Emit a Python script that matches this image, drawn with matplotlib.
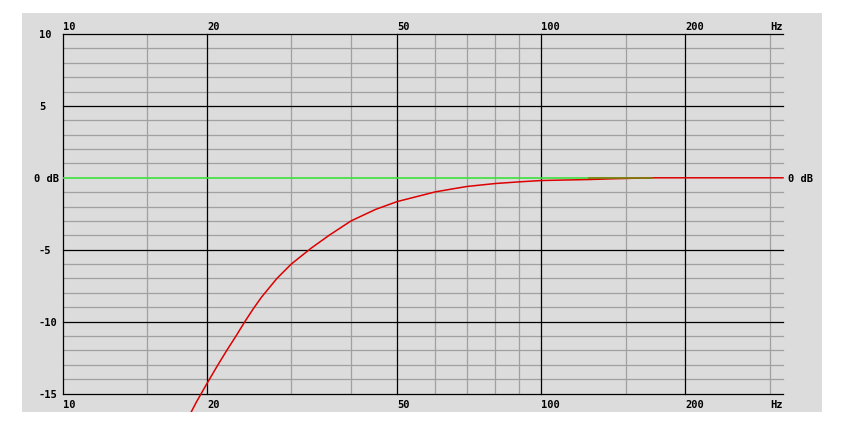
import matplotlib.pyplot as plt
from matplotlib.patches import Rectangle
from matplotlib.transforms import blended_transform_factory, offset_copy

# response (Hz, dB)
freq = [18, 19, 20, 21, 22, 23, 24, 25, 26, 28, 30, 33, 36, 40, 45, 50,
        55, 60, 65, 70, 80, 90, 100, 110, 126, 140, 170, 320]
gain = [-17.1, -15.6, -14.3, -13.1, -12.0, -11.0, -10.0, -9.1, -8.3, -7.0,
        -6.0, -4.9, -4.0, -3.0, -2.2, -1.65, -1.3, -0.98, -0.78, -0.6,
        -0.4, -0.28, -0.19, -0.16, -0.12, -0.07, 0.0, 0.0]
ref_freq = [10, 170]
ref_gain = [0, 0]

x_major = [20, 50, 100, 200]
x_minor = [15, 30, 40, 60, 70, 80, 90, 150, 300]
x_labels = [10, 20, 50, 100, 200]
y_labels = {10: "10", 5: "5", 0: "0 dB", -5: "-5", -10: "-10", -15: "-15"}

W, H = 849, 427
bg = "#dcdcdc"
font = dict(family="DejaVu Sans Mono", weight="bold", size=7.5)

fig = plt.figure(figsize=(W / 100, H / 100), dpi=100)
panel = Rectangle((22 / W, 1 - 413 / H), 800 / W, 399 / H,
                  transform=fig.transFigure, facecolor=bg, edgecolor="none", zorder=-5)
fig.patches.append(panel)

ax = fig.add_axes([63 / W, 1 - 394.5 / H, 720 / W, 359.5 / H])
ax.set_facecolor(bg)
ax.set_xscale("log")
ax.set_xlim(10, 320)
ax.set_ylim(-15, 10)
for s in ax.spines.values():
    s.set_visible(False)
ax.set_xticks([])
ax.set_yticks([])
ax.minorticks_off()

for db in range(-15, 11):
    if db == 0:
        continue  # 0 dB is marked by the traces themselves
    major = db % 5 == 0
    ax.axhline(db, color="black" if major else "#a0a0a0", lw=0.9, clip_on=False,
               zorder=2 if major else 1)
for f in x_minor:
    ax.axvline(f, color="#a0a0a0", lw=0.9, zorder=1)
for f in [10] + x_major:
    ax.axvline(f, color="black", lw=0.9, zorder=2, clip_on=False)

ax.plot(ref_freq, ref_gain, color="#3ee03e", lw=1.2, zorder=3)
red, = ax.plot(freq, gain, color="#dd0000", lw=1.1, zorder=4)
red.set_clip_path(panel)
# where both traces overlap they blend to olive
ov_f = [f for f, g in zip(freq, gain) if g > -0.13 and f <= ref_freq[1]]
ax.plot(ov_f, [0] * len(ov_f), color="#808010", lw=1.2, zorder=5)

top = offset_copy(ax.get_xaxis_transform(), fig=fig, x=0, y=2.5, units="dots")
bot = offset_copy(ax.get_xaxis_transform(), fig=fig, x=0, y=-6, units="dots")
for f in x_labels:
    ax.text(f, 1, str(f), transform=top, ha="left", va="bottom", **font)
    ax.text(f, 0, str(f), transform=bot, ha="left", va="top", **font)
ax.text(320, 1, "Hz", transform=top, ha="right", va="bottom", **font)
ax.text(320, 0, "Hz", transform=bot, ha="right", va="top", **font)

left = blended_transform_factory(fig.transFigure, ax.transData)
for db, txt in y_labels.items():
    x0 = 34 if db == 0 else 39
    ax.text(x0 / W, db, txt, transform=left, ha="left", va="center", **font)
ax.text(788 / W, 0, "0 dB", transform=left, ha="left", va="center", **font)

fig.savefig("out.png", dpi=100, facecolor="white")
